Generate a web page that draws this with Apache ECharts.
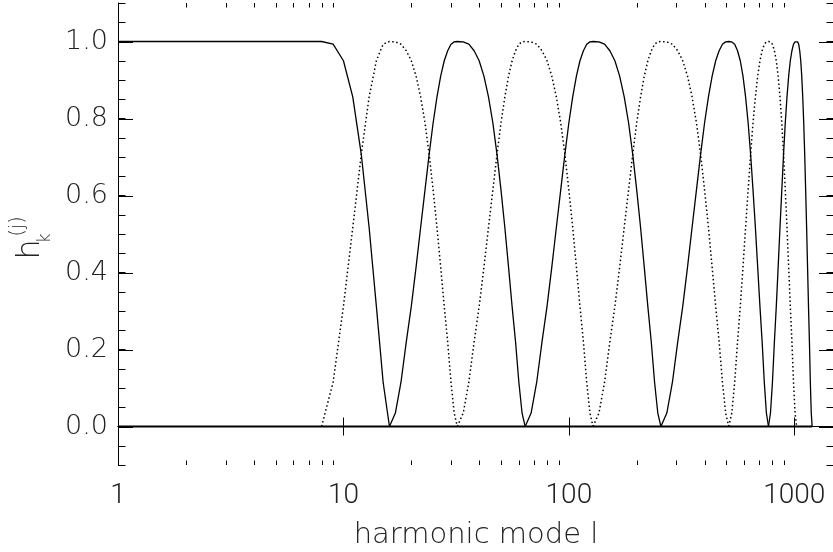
<!DOCTYPE html>
<html>
<head>
<meta charset="utf-8">
<script src="https://cdn.jsdelivr.net/npm/echarts@6/dist/echarts.min.js"></script>
<style>
  html, body { margin: 0; padding: 0; background: #fff; }
  #chart { width: 833px; height: 552px; }
</style>
</head>
<body>
<div id="chart"></div>
<script>
// axis ranges and tick values
var xMin = 1, xMax = 1500;
var yMin = -0.1, yMax = 1.1;
var xMinorTicks = [2, 3, 4, 5, 6, 7, 8, 9, 20, 30, 40, 50, 60, 70, 80, 90,
                   200, 300, 400, 500, 600, 700, 800, 900];
var yMajorTicks = [0, 0.2, 0.4, 0.6, 0.8, 1.0];

// filters h_k^(j) as [l, h]
var solid0 = [[1, 1], [8, 1], [9, 0.993], [10, 0.95], [11, 0.856], [12, 0.707], [13, 0.517],
              [14, 0.312], [15, 0.115], [16, 0]];
var dotted0 = [[8, 0], [9, 0.115], [10, 0.312], [11, 0.517], [12, 0.707], [13, 0.856], [14, 0.95],
               [15, 0.993], [16, 1], [17, 0.999], [18, 0.993], [19, 0.976], [20, 0.95], [21, 0.91],
               [22, 0.856], [23, 0.789], [24, 0.707], [25, 0.614], [26, 0.517], [27, 0.414],
               [28, 0.312], [29, 0.22], [30, 0.115], [31, 0.035], [32, 0]];
var solid1 = [[16, 0], [17, 0.035], [18, 0.115], [19, 0.22], [20, 0.312], [21, 0.414], [22, 0.517],
              [23, 0.614], [24, 0.707], [25, 0.789], [26, 0.856], [27, 0.91], [28, 0.95], [29, 0.976],
              [30, 0.993], [31, 0.999], [32, 1], [34, 0.999], [36, 0.993], [38, 0.976], [40, 0.95],
              [42, 0.91], [44, 0.856], [46, 0.789], [48, 0.707], [50, 0.614], [52, 0.517], [54, 0.414],
              [56, 0.312], [58, 0.22], [60, 0.115], [62, 0.035], [64, 0]];
var dotted1 = [[32, 0], [34, 0.035], [36, 0.115], [38, 0.22], [40, 0.312], [42, 0.414], [44, 0.517],
               [46, 0.614], [48, 0.707], [50, 0.789], [52, 0.856], [54, 0.91], [56, 0.95], [58, 0.976],
               [60, 0.993], [62, 0.999], [64, 1], [68, 0.999], [72, 0.993], [76, 0.976], [80, 0.95],
               [84, 0.91], [88, 0.856], [92, 0.789], [96, 0.707], [100, 0.614], [104, 0.517],
               [108, 0.414], [112, 0.312], [116, 0.22], [120, 0.115], [124, 0.035], [128, 0]];
var solid2 = [[64, 0], [68, 0.035], [72, 0.115], [76, 0.22], [80, 0.312], [84, 0.414], [88, 0.517],
              [92, 0.614], [96, 0.707], [100, 0.789], [104, 0.856], [108, 0.91], [112, 0.95],
              [116, 0.976], [120, 0.993], [124, 0.999], [128, 1], [136, 0.999], [144, 0.993],
              [152, 0.976], [160, 0.95], [168, 0.91], [176, 0.856], [184, 0.789], [192, 0.707],
              [200, 0.614], [208, 0.517], [216, 0.414], [224, 0.312], [232, 0.22], [240, 0.115],
              [248, 0.035], [256, 0]];
var dotted2 = [[128, 0], [136, 0.035], [144, 0.115], [152, 0.22], [160, 0.312], [168, 0.414],
               [176, 0.517], [184, 0.614], [192, 0.707], [200, 0.789], [208, 0.856], [216, 0.91],
               [224, 0.95], [232, 0.976], [240, 0.993], [248, 0.999], [256, 1], [272, 0.999],
               [288, 0.993], [304, 0.976], [320, 0.95], [336, 0.91], [352, 0.856], [368, 0.789],
               [384, 0.707], [400, 0.614], [416, 0.517], [432, 0.414], [448, 0.312], [464, 0.22],
               [480, 0.115], [496, 0.035], [512, 0]];
var solid3 = [[256, 0], [272, 0.035], [288, 0.115], [304, 0.22], [320, 0.312], [336, 0.414],
              [352, 0.517], [368, 0.614], [384, 0.707], [400, 0.789], [416, 0.856], [432, 0.91],
              [448, 0.95], [464, 0.976], [480, 0.993], [496, 0.999], [512, 1], [528, 0.999],
              [544, 0.993], [560, 0.976], [576, 0.95], [592, 0.91], [608, 0.856], [624, 0.789],
              [640, 0.707], [656, 0.614], [672, 0.517], [688, 0.414], [704, 0.312], [720, 0.22],
              [736, 0.115], [752, 0.035], [768, 0]];
var dotted3 = [[512, 0], [528, 0.035], [544, 0.115], [560, 0.22], [576, 0.312], [592, 0.414],
               [608, 0.517], [624, 0.614], [640, 0.707], [656, 0.789], [672, 0.856], [688, 0.91],
               [704, 0.95], [720, 0.976], [736, 0.993], [752, 0.999], [768, 1], [784, 0.999],
               [800, 0.993], [816, 0.976], [832, 0.95], [848, 0.91], [864, 0.856], [880, 0.789],
               [896, 0.707], [912, 0.614], [928, 0.517], [944, 0.414], [960, 0.312], [976, 0.22],
               [992, 0.115], [1008, 0.035], [1024, 0]];
var solid4 = [[768, 0], [784, 0.035], [800, 0.115], [816, 0.22], [832, 0.312], [848, 0.414],
              [864, 0.517], [880, 0.614], [896, 0.707], [912, 0.789], [928, 0.856], [944, 0.91],
              [960, 0.95], [976, 0.976], [992, 0.993], [1008, 0.999], [1024, 1], [1035, 0.999],
              [1046, 0.993], [1057, 0.976], [1068, 0.95], [1079, 0.91], [1090, 0.856], [1101, 0.789],
              [1112, 0.707], [1123, 0.614], [1134, 0.517], [1145, 0.414], [1156, 0.312], [1167, 0.22],
              [1178, 0.115], [1189, 0.035], [1200, 0]];
var baseline = [[1, 0], [1200, 0]];

var ink = '#222';

function curve(data, dotted) {
    return {
        type: 'line',
        data: data,
        symbol: 'none',
        silent: true,
        z: dotted ? 2 : 3,
        lineStyle: {
            color: '#000',
            width: dotted ? 1.5 : 1.3,
            type: dotted ? [1.5, 2.6] : 'solid'
        }
    };
}

var series = [];
[dotted0, dotted1, dotted2, dotted3].forEach(function (d) { series.push(curve(d, true)); });
[solid0, solid1, solid2, solid3, solid4].forEach(function (d) { series.push(curve(d, false)); });
series.push({
    type: 'line', data: baseline, symbol: 'none', silent: true, z: 4,
    lineStyle: { color: '#000', width: 2 }
});

// minor ticks of the log axis, bottom and top
series.push({
    type: 'custom',
    silent: true,
    z: 5,
    data: xMinorTicks.map(function (v) { return [v, 0]; }),
    renderItem: function (params, api) {
        var lo = api.coord([api.value(0), yMin]);
        var hi = api.coord([api.value(0), yMax]);
        var x = Math.round(lo[0]) + 0.5;
        var st = { stroke: '#000', lineWidth: 1 };
        return {
            type: 'group',
            children: [
                { type: 'line', shape: { x1: x, y1: lo[1], x2: x, y2: lo[1] - 4.5 }, style: st },
                { type: 'line', shape: { x1: x, y1: hi[1], x2: x, y2: hi[1] + 4.5 }, style: st }
            ]
        };
    }
});

// long ticks at the labelled y values, left and right
series.push({
    type: 'custom',
    silent: true,
    z: 5,
    data: yMajorTicks.map(function (v) { return [xMin, v]; }),
    renderItem: function (params, api) {
        var l = api.coord([xMin, api.value(1)]);
        var r = api.coord([xMax, api.value(1)]);
        var y = Math.round(l[1]) + 0.5;
        var st = { stroke: '#000', lineWidth: 1 };
        return {
            type: 'group',
            children: [
                { type: 'line', shape: { x1: l[0], y1: y, x2: l[0] + 15, y2: y }, style: st },
                { type: 'line', shape: { x1: r[0], y1: y, x2: r[0] - 15, y2: y }, style: st }
            ]
        };
    }
});

var axisLine = { show: true, lineStyle: { color: '#000', width: 1 } };
var xLabelText = { fontFamily: 'Roboto', fontWeight: 300, fontSize: 28, color: ink };
var yLabelText = { fontFamily: 'DejaVu Sans', fontWeight: 200, fontSize: 27, color: ink };

var option = {
    animation: false,
    backgroundColor: '#fff',
    grid: { left: 118, top: 3, right: -1, bottom: 87, outerBoundsMode: 'none', containLabel: false },
    xAxis: [
        {
            type: 'log', logBase: 10, min: xMin, max: xMax, position: 'bottom',
            axisLine: axisLine,
            axisTick: { inside: true, length: 9, lineStyle: { color: '#000' } },
            axisLabel: Object.assign({
                margin: 17,
                formatter: function (v) {
                    var e = Math.log10(v);
                    return Math.abs(e - Math.round(e)) < 1e-6 ? String(Math.round(v)) : '';
                }
            }, xLabelText),
            splitLine: { show: false },
            name: 'harmonic mode l',
            nameLocation: 'middle',
            nameGap: 56,
            nameTextStyle: { fontFamily: 'DejaVu Sans', fontWeight: 200, fontSize: 29, color: ink }
        },
        {
            type: 'log', logBase: 10, min: xMin, max: xMax, position: 'top',
            axisLine: axisLine,
            axisTick: { inside: true, length: 9, lineStyle: { color: '#000' } },
            axisLabel: { show: false },
            splitLine: { show: false }
        }
    ],
    yAxis: [
        {
            type: 'value', min: yMin, max: yMax, interval: 0.05, position: 'left',
            axisLine: axisLine,
            axisTick: { inside: true, length: 7.5, lineStyle: { color: '#000' } },
            axisLabel: Object.assign({
                margin: 10,
                formatter: function (v) {
                    for (var i = 0; i < yMajorTicks.length; i++) {
                        if (Math.abs(v - yMajorTicks[i]) < 1e-6) return yMajorTicks[i].toFixed(1);
                    }
                    return '';
                }
            }, yLabelText),
            splitLine: { show: false },
            name: '{h|h}{k|k}{j|(j)}',
            nameLocation: 'middle',
            nameRotate: 90,
            nameGap: 53,
            nameTextStyle: {
                padding: [0, 8, 0, 0],
                rich: {
                    h: { fontFamily: 'DejaVu Sans', fontWeight: 200, fontSize: 32, color: ink, lineHeight: 46, verticalAlign: 'middle' },
                    k: { fontFamily: 'DejaVu Sans', fontWeight: 200, fontSize: 17, color: ink, lineHeight: 28, verticalAlign: 'bottom', padding: [0, 0, 0, -4] },
                    j: { fontFamily: 'DejaVu Sans', fontWeight: 200, fontSize: 19, color: ink, lineHeight: 20, verticalAlign: 'top', padding: [0, 0, 0, -3] }
                }
            }
        },
        {
            type: 'value', min: yMin, max: yMax, interval: 0.05, position: 'right',
            axisLine: axisLine,
            axisTick: { inside: true, length: 7.5, lineStyle: { color: '#000' } },
            axisLabel: { show: false },
            splitLine: { show: false }
        }
    ],
    series: series
};

var chart = echarts.init(document.getElementById('chart'));
chart.setOption(option);
</script>
</body>
</html>
